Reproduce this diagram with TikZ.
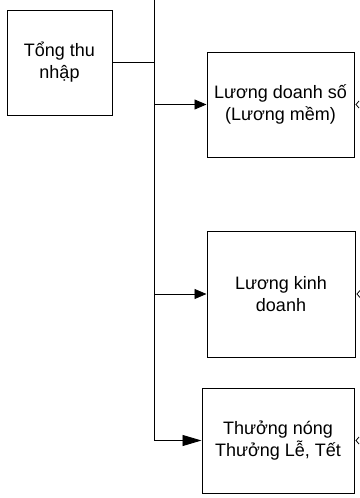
\documentclass[tikz,border=0pt]{standalone}
\usepackage{fontspec}
\setmainfont{Liberation Sans}
\usetikzlibrary{arrows.meta}
\begin{document}
\begin{tikzpicture}[x=1pt,y=-1pt,
  boxnode/.style={draw=black, line width=1pt, fill=white, inner sep=0pt,
    align=center, font=\fontsize{18}{22}\selectfont},
  link/.style={line width=0.9pt, draw=black},
  feed/.style={link, -{Triangle[length=12pt,width=10pt]}},
  barb/.style={line width=0.8pt, draw=black}]
\useasboundingbox (0,0) rectangle (359,498);

% boxes
\node[boxnode, minimum width=105pt, minimum height=105pt] (total) at (59.5,62.5) {Tổng thu\\nhập};
\node[boxnode, minimum width=147pt, minimum height=105pt] (sales) at (280.5,104.5) {Lương doanh số\\(Lương mềm)};
\node[boxnode, minimum width=148pt, minimum height=126pt] (biz) at (281,294) {Lương kinh\\doanh};
\node[boxnode, minimum width=152pt, minimum height=105pt] (bonus) at (278,440.5) {Thưởng nóng\\Thưởng Lễ, Tết};

% trunk line
\coordinate (top) at (154,0);
\coordinate (j0) at (154,62.5);
\coordinate (j1) at (154,104.5);
\coordinate (j2) at (154,294);
\coordinate (j3) at (154,440.5);
\draw[link] (top) -- (j3);
\draw[link] (total.east) -- (j0);

% branches
\draw[feed] (j1) -- (sales.west);
\draw[feed] (j2) -- (biz.west);
\draw[link, -{Triangle[length=19pt,width=11pt]}] (j3) -- (bonus.west);

% incoming tips on the right edge
\foreach \n in {sales,biz,bonus}{
  \draw[barb] ([xshift=4.5pt,yshift=-3.5pt]\n.east) -- ([xshift=1.5pt]\n.east) -- ([xshift=4.5pt,yshift=3.5pt]\n.east);
}
\end{tikzpicture}
\end{document}
